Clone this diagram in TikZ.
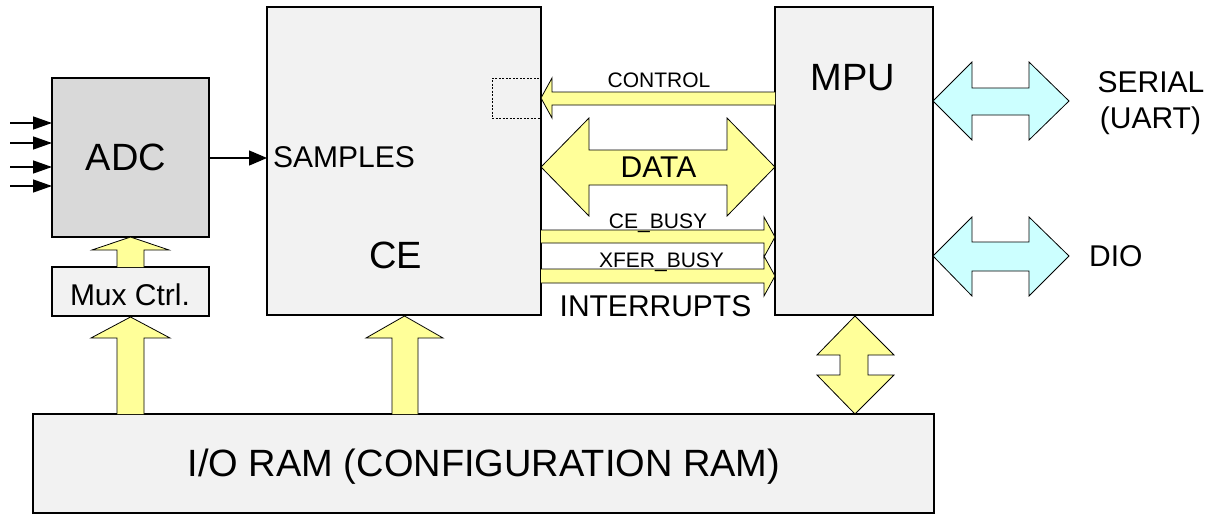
\documentclass[tikz,border=0pt]{standalone}
\usepackage{fontspec}
\setmainfont{Liberation Sans}
\usetikzlibrary{arrows.meta}
\definecolor{boxgray}{HTML}{F2F2F2}
\definecolor{adcgray}{HTML}{D9D9D9}
\definecolor{byellow}{HTML}{FFFF99}
\definecolor{bcyan}{HTML}{CCFFFF}
\tikzset{
  blk/.style={draw=black, line width=2.4pt, fill=boxgray, inner sep=0pt, outer sep=0pt},
  yarr/.style={draw=black, line width=0.8pt, fill=byellow, line join=miter},
  carr/.style={draw=black, line width=0.8pt, fill=bcyan, line join=miter},
  thinarr/.style={draw=black, line width=1.3pt, -{Triangle[length=19pt,width=13pt]}},
  lbl/.style={inner sep=0pt, anchor=base},
  big/.style={font=\fontsize{38}{40}\selectfont},
  mid/.style={font=\fontsize{30}{36}\selectfont},
  sml/.style={font=\fontsize{21}{24}\selectfont},
}
\begin{document}
\begin{tikzpicture}[x=1pt,y=-1pt]
\useasboundingbox (0,0) rectangle (1211,514);
% boxes
\node[blk, fill=adcgray, minimum width=157pt, minimum height=159pt] (adc) at (130.5,157.5) {};
\node[blk, minimum width=157pt, minimum height=49pt] (mux) at (130.5,291.5) {};
\node[blk, minimum width=274pt, minimum height=308pt] (ce) at (404,161) {};
\node[blk, minimum width=158pt, minimum height=308pt] (mpu) at (854,161) {};
\node[blk, minimum width=901pt, minimum height=99pt] (ioram) at (483.5,463.5) {};
\node[draw=black, line width=0.9pt, dashed, dash pattern=on 2pt off 1.5pt, minimum width=49pt, minimum height=40pt, inner sep=0pt] (ctl) at (516.5,98) {};
% input arrows
\foreach \y [count=\i] in {123,143,167,186} {
  \coordinate (in\i) at (10,\y);
  \draw[thinarr] (in\i) -- (adc.west |- in\i);
}
\coordinate (samp0) at (adc.east |- 0,158);
\draw[line width=1.3pt, -{Triangle[length=18pt,width=15pt]}] (samp0) -- (ce.west |- samp0);
% yellow block arrows
\draw[yarr] (117,267) -- (117,250) -- (92,250) -- (130.5,237) -- (169,250) -- (144,250) -- (144,267);
\draw[yarr] (117,414) -- (117,338) -- (91,338) -- (130.5,317) -- (170,338) -- (144,338) -- (144,414);
\draw[yarr] (392,414) -- (392,338) -- (366,338) -- (404.5,316) -- (443,338) -- (418,338) -- (418,414);
\draw[yarr] (855,316) -- (894,355) -- (868,355) -- (868,375) -- (894,375) -- (855,414) -- (817,375) -- (840,375) -- (840,355) -- (817,355) -- cycle;
% control
\draw[yarr] (775,92) -- (552,92) -- (552,78) -- (541,98) -- (552,118) -- (552,105) -- (775,105);
% data
\draw[yarr] (541,167) -- (589,118) -- (589,150) -- (727,150) -- (727,118) -- (775,167) -- (727,216) -- (727,185) -- (589,185) -- (589,216) -- cycle;
% busy
\draw[yarr] (541,230) -- (764,230) -- (764,217) -- (775,237) -- (764,257) -- (764,243) -- (541,243);
\draw[yarr] (541,269) -- (764,269) -- (764,256) -- (775,276) -- (764,296) -- (764,283) -- (541,283);
% cyan
\draw[carr] (933,101) -- (972,62) -- (972,88) -- (1029,88) -- (1029,62) -- (1069,101) -- (1029,140) -- (1029,115) -- (972,115) -- (972,140) -- cycle;
\draw[carr] (933,256) -- (972,217) -- (972,242) -- (1029,242) -- (1029,217) -- (1069,256) -- (1029,296) -- (1029,271) -- (972,271) -- (972,296) -- cycle;
% labels
\node[lbl, big] (adct) at (126,170) {ADC};
\node[lbl, mid] (muxt) at (130,305) {Mux Ctrl.};
\node[lbl, big] (cet) at (395.5,268) {CE};
\node[lbl, mid, anchor=base west] (samp) at (273,167) {SAMPLES};
\node[lbl, big] (mput) at (853,90) {MPU};
\node[lbl, big] (iot) at (484,476) {I/O RAM (CONFIGURATION RAM)};
\node[lbl, sml] (ctrlt) at (659,87) {CONTROL};
\node[lbl, mid] (datat) at (658.5,177) {DATA};
\node[lbl, sml] (cebt) at (658,228) {CE\_BUSY};
\node[lbl, sml] (xfert) at (661.5,267) {XFER\_BUSY};
\node[lbl, mid] (intt) at (655.5,316) {INTERRUPTS};
\node[lbl, mid] (sert) at (1151,92) {SERIAL};
\node[lbl, mid] (uartt) at (1150.5,128) {(UART)};
\node[lbl, mid, anchor=base west] (diot) at (1089,266) {DIO};
\end{tikzpicture}
\end{document}
